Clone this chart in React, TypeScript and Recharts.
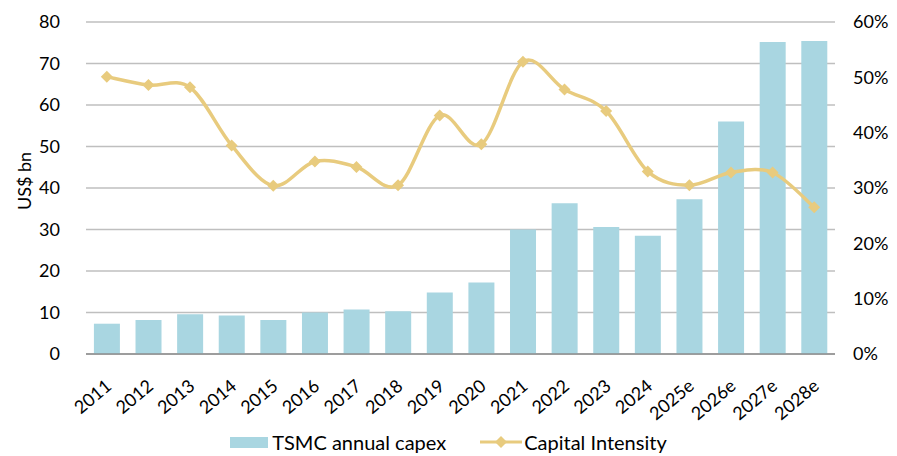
import React from "react";
import { ComposedChart, Bar, Line, XAxis, YAxis, CartesianGrid, Legend } from "recharts";

const years = ["2011","2012","2013","2014","2015","2016","2017","2018","2019","2020","2021","2022","2023","2024","2025e","2026e","2027e","2028e"];
const capex = [7.3,8.2,9.6,9.3,8.2,10.0,10.7,10.3,14.8,17.2,30.0,36.3,30.6,28.5,37.3,56.0,75.2,75.4];
const intensity = [50.1,48.6,48.2,37.7,30.4,34.8,33.8,30.5,43.1,37.9,52.8,47.8,43.9,33.0,30.5,32.8,32.8,26.5];
const leftTicks = [0,10,20,30,40,50,60,70,80];
const rightTicks = [0,10,20,30,40,50,60];

const data = years.map((y, i) => ({ year: y, capex: capex[i], intensity: intensity[i] }));

const FONT = "Lato, 'Open Sans', sans-serif";
const BAR = "#A9D6E1";
const LINE = "#E8CB7E";

// Catmull-Rom style smoothing (similar to Excel smoothed lines)
function smoothCurve(context: any) {
  let pts: [number, number][] = [];
  return {
    areaStart() {},
    areaEnd() {},
    lineStart() { pts = []; },
    point(x: number, y: number) { pts.push([+x, +y]); },
    lineEnd() {
      if (!pts.length) return;
      context.moveTo(pts[0][0], pts[0][1]);
      for (let i = 0; i < pts.length - 1; i++) {
        const p0 = pts[i - 1] || pts[i];
        const p1 = pts[i];
        const p2 = pts[i + 1];
        const p3 = pts[i + 2] || p2;
        const c1x = p1[0] + (p2[0] - p0[0]) / 6;
        const c1y = p1[1] + (p2[1] - p0[1]) / 6;
        const c2x = p2[0] - (p3[0] - p1[0]) / 6;
        const c2y = p2[1] - (p3[1] - p1[1]) / 6;
        context.bezierCurveTo(c1x, c1y, c2x, c2y, p2[0], p2[1]);
      }
    },
  };
}

const Diamond = (props: any) => {
  const { cx, cy } = props;
  if (cx == null || cy == null) return null;
  const r = 6;
  return <path d={`M${cx},${cy - r}L${cx + r},${cy}L${cx},${cy + r}L${cx - r},${cy}Z`} fill={LINE} stroke="none" />;
};

const XTick = (props: any) => {
  const { x, y, payload } = props;
  const tx = x + 6;
  const ty = y + 26;
  return (
    <text x={tx} y={ty} transform={`rotate(-40, ${tx}, ${ty})`} textAnchor="end" fontSize={18} fontFamily={FONT} fill="#000">
      {payload.value}
    </text>
  );
};

const YLabel = () => (
  <text x={24} y={181} transform="rotate(-90, 24, 181)" textAnchor="middle" dominantBaseline="central" fontSize={18} fontFamily={FONT} fill="#000">
    US$ bn
  </text>
);

const LegendContent = () => (
  <div style={{ display: "flex", justifyContent: "center", alignItems: "center", fontFamily: FONT, fontSize: 20, color: "#000", paddingTop: 16 }}>
    <div style={{ display: "flex", alignItems: "center", marginRight: 34 }}>
      <div style={{ width: 38, height: 11, background: BAR, marginRight: 4 }} />
      <span>TSMC annual capex</span>
    </div>
    <div style={{ display: "flex", alignItems: "center" }}>
      <svg width={42} height={14} style={{ marginRight: 2 }}>
        <line x1={0} y1={7} x2={42} y2={7} stroke={LINE} strokeWidth={3} />
        <path d="M21,1L27,7L21,13L15,7Z" fill={LINE} />
      </svg>
      <span>Capital Intensity</span>
    </div>
  </div>
);

export default function App() {
  return (
    <div style={{ position: "absolute", left: 0, top: 0, width: 897, height: 456, background: "#fff" }}>
      <ComposedChart width={897} height={456} data={data} margin={{ top: 22, right: 0, bottom: 8, left: 0 }} barCategoryGap="19%">
        <CartesianGrid vertical={false} stroke="#BFBFBF" strokeWidth={1.5} yAxisId="left" />
        <XAxis dataKey="year" tick={<XTick />} tickLine={false} axisLine={{ stroke: "#8C8C8C", strokeWidth: 1.5 }} interval={0} height={60} />
        <YAxis yAxisId="left" domain={[0, 80]} ticks={leftTicks} width={86} tickLine={false} axisLine={false} tickSize={0} tickMargin={26}
          tick={{ fontSize: 18, fontFamily: FONT, fill: "#000" }}
          label={<YLabel />} />
        <YAxis yAxisId="right" orientation="right" domain={[0, 60]} ticks={rightTicks} width={62} tickLine={false} axisLine={false} tickSize={0} tickMargin={18}
          tickFormatter={(v: number) => `${v}%`} tick={{ fontSize: 18, fontFamily: FONT, fill: "#000", textAnchor: "start" }} />
        <Bar yAxisId="left" dataKey="capex" name="TSMC annual capex" fill={BAR} isAnimationActive={false} />
        <Line yAxisId="right" dataKey="intensity" name="Capital Intensity" type={smoothCurve as any} stroke={LINE} strokeWidth={3.5} dot={<Diamond />} activeDot={false} isAnimationActive={false} />
        <Legend verticalAlign="bottom" height={34} content={<LegendContent />} />
      </ComposedChart>
    </div>
  );
}
